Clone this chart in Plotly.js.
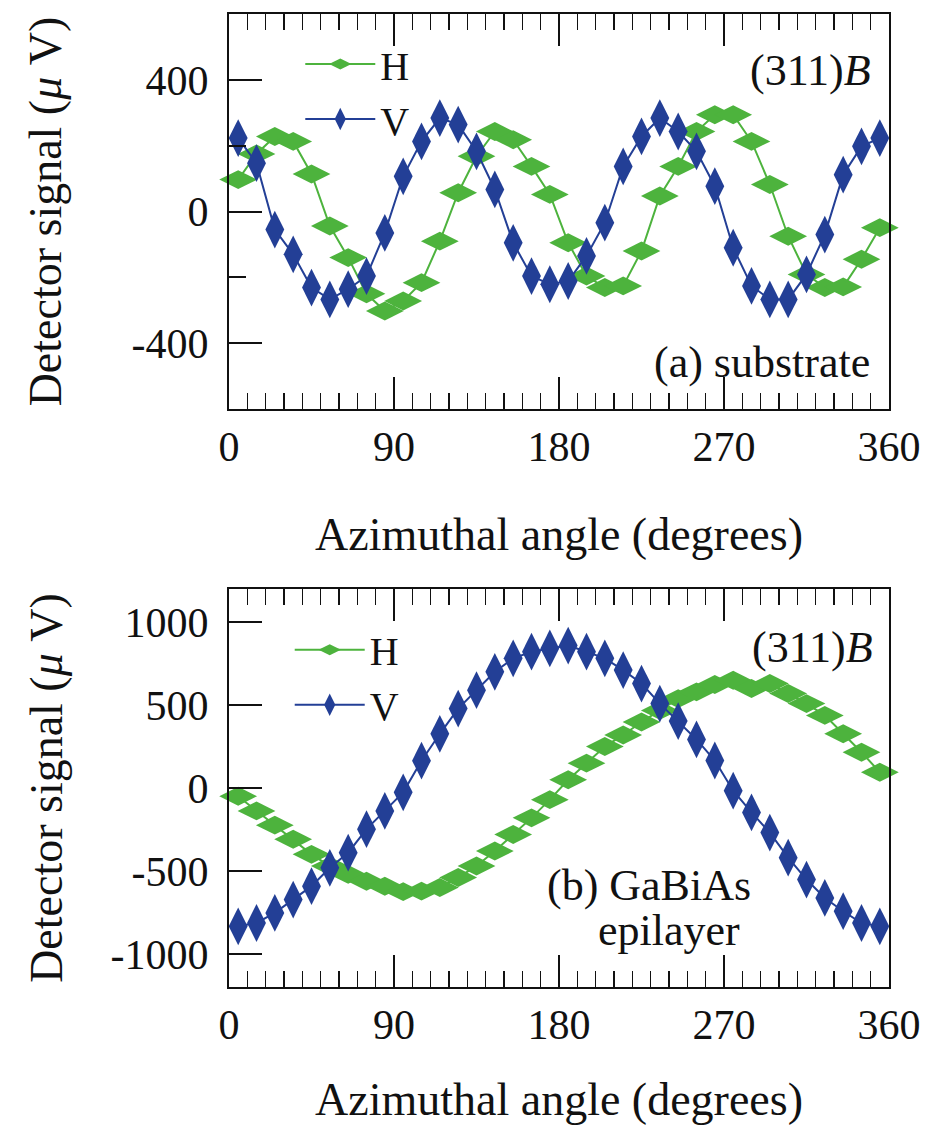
<!DOCTYPE html>
<html><head><meta charset="utf-8">
<script src="https://cdn.plot.ly/plotly-3.0.1.min.js"></script>
<style>html,body{margin:0;padding:0;background:#fff}</style>
</head><body>
<div id="chart" style="width:938px;height:1130px"></div>
<script>
// Azimuthal angles (degrees)
const angles = [5,15,25,35,45,55,65,75,85,95,105,115,125,135,145,155,165,175,185,195,205,215,225,235,245,255,265,275,285,295,305,315,325,335,345,355];
// (a) substrate, detector signal (µV)
const subH = [97,175,228,213,114,-44,-140,-250,-302,-272,-216,-90,57,168,243,218,137,52,-95,-196,-231,-226,-120,47,137,243,294,294,213,82,-75,-191,-231,-229,-145,-49];
const subV = [223,147,-55,-130,-231,-267,-236,-196,-65,107,213,284,264,183,67,-95,-196,-221,-211,-135,-34,137,228,284,243,183,77,-110,-226,-267,-267,-191,-70,112,198,223];
// (b) GaBiAs epilayer, detector signal (µV)
const epiH = [-50,-138,-224,-309,-400,-471,-521,-562,-592,-625,-622,-600,-540,-470,-380,-280,-180,-70,50,150,250,320,398,468,539,580,624,650,600,630,570,509,438,327,216,95];
const epiV = [-834,-814,-753,-673,-592,-481,-390,-248,-138,-26,165,327,479,590,701,782,822,842,859,822,782,711,630,509,404,293,166,-16,-147,-269,-420,-552,-663,-743,-814,-834];
const seriesNames = ['H','V'];
const xTicks = [0,90,180,270,360];
const yTicksA = [-400,0,400];
const yTicksB = [-1000,-500,0,500,1000];

const GREEN = '#4db33d', BLUE = '#233f96';
const FONT = '"Liberation Serif", "Times New Roman", Times, "DejaVu Serif", serif';

function trace(y, name, color, symbol, xa, ya, legend) {
  return {
    x: angles, y: y, name: name, type: 'scatter', mode: 'lines+markers',
    xaxis: xa, yaxis: ya, legend: legend, cliponaxis: false,
    line: {color: color, width: 2},
    marker: {color: color, symbol: symbol, size: 27, line: {width: 0}}
  };
}
const data = [
  trace(subH, seriesNames[0], GREEN, 'diamond-wide', 'x', 'y', 'legend'),
  trace(subV, seriesNames[1], BLUE, 'diamond-tall', 'x', 'y', 'legend'),
  trace(epiH, seriesNames[0], GREEN, 'diamond-wide', 'x2', 'y2', 'legend2'),
  trace(epiV, seriesNames[1], BLUE, 'diamond-tall', 'x2', 'y2', 'legend2')
];

function xAxis(anchor, standoff) {
  return {
    anchor: anchor, domain: [0,1], range: [0,360],
    tickvals: xTicks, ticktext: xTicks.map(String),
    ticks: 'inside', ticklen: 32, tickwidth: 2, tickcolor: '#111',
    minor: {dtick: 10, tick0: 0, ticks: 'inside', ticklen: 16, tickwidth: 1.5, tickcolor: '#111'},
    showline: true, linewidth: 2, linecolor: '#111', mirror: 'ticks',
    showgrid: false, zeroline: false,
    tickfont: {family: FONT, size: 42, color: '#111'},
    ticklabelstandoff: 0,
    automargin: false,
    title: {text: 'Azimuthal angle (degrees)', font: {family: FONT, size: 46, color: '#111'}, standoff: standoff}
  };
}
function yAxis(anchor, domain, range, ticks, minor, standoff) {
  const ax = {
    anchor: anchor, domain: domain, range: range,
    tickvals: ticks, ticktext: ticks.map(String),
    ticks: 'inside', ticklen: 33, tickwidth: 2, tickcolor: '#111',
    showline: true, linewidth: 2, linecolor: '#111', mirror: true,
    showgrid: false, zeroline: false,
    tickfont: {family: FONT, size: 42, color: '#111'},
    ticklabelstandoff: 10,
    automargin: false,
    title: {text: 'Detector signal (<i>μ</i> V)', font: {family: FONT, size: 46, color: '#111'}, standoff: standoff}
  };
  if (minor) ax.minor = {dtick: minor, tick0: 0, ticks: 'inside', ticklen: 17, tickwidth: 2, tickcolor: '#111'};
  return ax;
}

const legendFont = {family: FONT, size: 40, color: '#111'};
const layout = {
  width: 938, height: 1130,
  margin: {l: 229, r: 49, t: 14, b: 143},
  paper_bgcolor: '#fff', plot_bgcolor: '#fff',
  font: {family: FONT, color: '#111'},
  xaxis: xAxis('y', 48),
  yaxis: yAxis('x', [0.594, 1], [-600, 600], yTicksA, 200, 55),
  xaxis2: xAxis('y2', 35),
  yaxis2: yAxis('x2', [0, 0.409], [-1200, 1200], yTicksB, null, 33),
  legend: {x: 0.108, xanchor: 'left', y: 0.982, yanchor: 'top', bgcolor: 'rgba(0,0,0,0)',
           font: legendFont, itemwidth: 70, tracegroupgap: 0},
  legend2: {x: 0.092, xanchor: 'left', y: 0.380, yanchor: 'top', bgcolor: 'rgba(0,0,0,0)',
           font: legendFont, itemwidth: 70, tracegroupgap: 0},
  showlegend: true,
  annotations: [
    {xref: 'x domain', yref: 'y domain', x: 0.976, y: 0.858, xanchor: 'right', yanchor: 'middle',
     text: '(311)<i>B</i>', showarrow: false, font: {family: FONT, size: 44, color: '#111'}},
    {xref: 'x domain', yref: 'y domain', x: 0.974, y: 0.119, xanchor: 'right', yanchor: 'middle',
     text: '(a) substrate', showarrow: false, font: {family: FONT, size: 44, color: '#111'}},
    {xref: 'x2 domain', yref: 'y2 domain', x: 0.979, y: 0.852, xanchor: 'right', yanchor: 'middle',
     text: '(311)<i>B</i>', showarrow: false, font: {family: FONT, size: 44, color: '#111'}},
    {xref: 'x2 domain', yref: 'y2 domain', x: 0.636, y: 0.254, xanchor: 'center', yanchor: 'middle',
     text: '(b) GaBiAs', showarrow: false, font: {family: FONT, size: 44, color: '#111'}},
    {xref: 'x2 domain', yref: 'y2 domain', x: 0.667, y: 0.143, xanchor: 'center', yanchor: 'middle',
     text: 'epilayer', showarrow: false, font: {family: FONT, size: 44, color: '#111'}}
  ]
};

Plotly.newPlot('chart', data, layout, {displayModeBar: false, staticPlot: true});
</script>
</body></html>
